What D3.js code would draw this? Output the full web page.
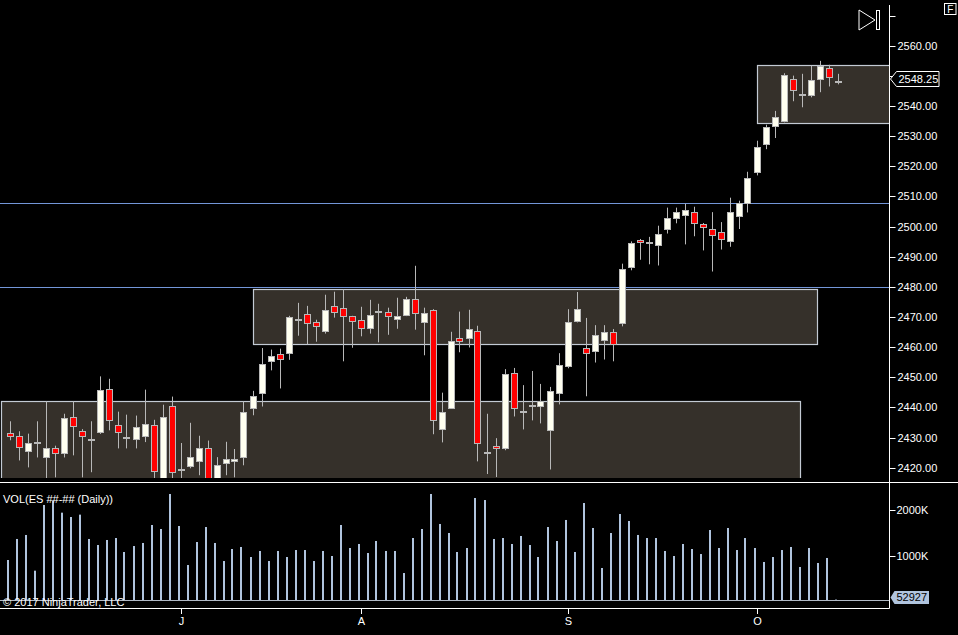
<!DOCTYPE html>
<html>
<head>
<meta charset="utf-8">
<script src="https://d3js.org/d3.v7.min.js"></script>
<style>
  body { margin: 0; background: #000; }
  svg text { font-family: "Liberation Sans", Arial, sans-serif; }
</style>
</head>
<body>
<div id="chart"></div>
<script>
// daily bars, ES futures, index 0 = first bar on the chart
var opens = [2431.5,2430.6,2425.5,2428.5,2423.5,2426.5,2424.8,2436.8,2432.2,2429.5,
  2431.8,2446.1,2434.2,2430.2,2429.5,2430.5,2434.2,2415.5,2440.5,2419.5,
  2420.6,2422.2,2426.5,2416.0,2421.5,2422.2,2423.5,2439.8,2444.8,2455.4,
  2457.7,2458.0,2469.4,2471.0,2468.3,2465.3,2473.6,2473.0,2470.3,2469.0,
  2466.3,2472.1,2471.6,2469.3,2470.7,2476.0,2468.3,2472.3,2432.8,2439.8,
  2463.0,2463.0,2465.3,2425.2,2427.3,2426.5,2451.4,2438.9,2440.8,2440.5,
  2432.5,2444.8,2453.7,2468.6,2459.7,2458.7,2462.4,2465.0,2468.0,2486.6,
  2495.5,2494.8,2493.9,2499.2,2502.8,2503.8,2504.8,2500.8,2499.2,2498.2,
  2495.1,2503.5,2507.8,2518.0,2527.4,2533.4,2535.2,2549.0,2543.9,2543.6,
  2549.0,2552.6,2548.25];
var highs = [2435.4,2432.1,2431.3,2435.4,2442.0,2427.3,2437.9,2442.0,2432.8,2435.4,
  2450.3,2449.5,2438.6,2437.6,2437.3,2445.9,2435.9,2440.9,2443.6,2428.2,
  2434.9,2430.6,2429.0,2423.5,2428.6,2426.2,2442.0,2445.5,2459.7,2459.2,
  2459.5,2470.4,2474.7,2473.7,2469.1,2477.4,2478.4,2479.1,2470.4,2473.4,
  2475.7,2474.4,2473.1,2476.4,2476.7,2487.0,2473.1,2472.6,2444.9,2465.1,
  2471.8,2472.4,2467.1,2437.9,2429.8,2452.7,2453.1,2447.4,2452.1,2447.8,
  2446.8,2458.0,2472.6,2478.3,2469.7,2467.3,2467.3,2466.0,2487.7,2495.1,
  2495.9,2496.6,2500.3,2506.3,2506.3,2507.6,2506.6,2501.2,2504.8,2501.5,
  2509.6,2508.6,2518.2,2528.5,2533.8,2538.4,2550.9,2550.1,2550.7,2553.4,
  2555.0,2553.7,2550.7];
var lows = [2429.1,2422.4,2420.1,2423.4,2416.5,2416.8,2423.4,2424.1,2416.8,2418.5,
  2431.2,2432.4,2426.4,2426.4,2426.4,2428.5,2416.5,2414.0,2416.0,2416.0,
  2419.8,2417.5,2415.0,2415.0,2417.5,2416.8,2420.8,2437.4,2440.3,2452.3,
  2446.3,2455.8,2463.8,2461.0,2461.8,2464.5,2469.8,2455.3,2459.8,2463.6,
  2464.5,2461.6,2464.1,2466.1,2470.3,2465.8,2457.3,2431.1,2428.4,2439.5,
  2458.3,2459.9,2422.1,2417.9,2416.9,2425.8,2437.0,2432.7,2435.7,2434.7,
  2419.4,2441.0,2453.0,2468.2,2443.7,2454.9,2455.9,2455.3,2466.9,2485.5,
  2489.0,2487.5,2487.1,2497.7,2501.1,2494.1,2496.8,2492.1,2485.1,2492.4,
  2493.3,2499.2,2504.7,2517.0,2525.7,2529.4,2534.6,2541.6,2539.6,2542.9,
  2544.6,2546.5,2547.2];
var closes = [2430.5,2426.9,2428.2,2428.5,2426.5,2424.9,2436.5,2433.7,2430.5,2429.5,
  2445.8,2435.8,2431.8,2430.2,2433.5,2434.5,2418.9,2436.8,2418.6,2419.5,
  2423.5,2426.5,2416.0,2420.9,2422.9,2422.9,2438.5,2443.8,2454.4,2457.0,
  2456.1,2470.0,2469.4,2468.0,2467.0,2472.3,2471.6,2470.3,2468.7,2466.3,
  2470.7,2472.1,2470.3,2470.3,2476.0,2471.3,2471.3,2435.8,2438.5,2462.0,
  2462.0,2466.0,2428.0,2425.2,2426.5,2451.1,2439.8,2438.9,2440.8,2442.0,
  2445.4,2454.1,2468.3,2472.6,2458.0,2464.0,2465.0,2461.0,2485.9,2494.5,
  2494.9,2494.8,2497.5,2502.8,2504.8,2505.5,2501.2,2499.8,2497.2,2495.9,
  2504.8,2507.8,2516.1,2526.4,2533.0,2536.3,2550.3,2545.3,2543.9,2548.6,
  2553.3,2549.6,2548.25];
// volume in thousands of contracts
var volumesK = [913,1370,1457,681,2109,2203,1942,1848,1899,1370,
  1239,1348,1391,1087,1217,1283,1674,1587,2348,1652,
  804,1304,1630,1283,891,1152,1196,978,1109,891,
  1109,978,1130,1130,891,1109,1000,1674,1174,1261,
  1065,1326,1109,1109,630,1391,1587,2348,1696,1500,
  1087,1174,2261,2217,1370,1391,1261,1435,1239,978,
  1630,1326,1783,1087,2152,1609,739,1500,1913,1761,
  1457,1391,1391,1109,1000,1261,1152,1043,1565,1174,
  1609,1130,1391,1174,870,978,1130,1196,761,1174,
  848,957,52.927];
var monthTicks = [19, 39, 62, 83];
var monthLabels = ["J", "A", "S", "O"];
var priceTicks = d3.range(2420, 2571, 10);
var volumeTicks = [1000, 2000];
// drawn zones: [from bar, to bar, upper price, lower price]
var zones = [[-0.93, 87.85, 2442.2, 2405], [27, 89.7, 2479.3, 2461.0], [83, 100, 2553.7, 2534.4]];
var levels = [2480.0, 2507.8];

var W = 958, H = 635;
var axisX = 889.5;
var svg = d3.select("#chart").append("svg").attr("width", W).attr("height", H)
  .style("background", "#000");

var x = d3.scaleLinear().domain([0, 92]).range([9.5, 837.5]);
var y = d3.scaleLinear().domain([2420, 2560]).range([467.7, 45.8]);
var yv = d3.scaleLinear().domain([0, 2000]).range([602, 510]);

svg.append("clipPath").attr("id", "pclip").append("rect")
  .attr("x", 0).attr("y", 0).attr("width", axisX).attr("height", 478);

var price = svg.append("g").attr("clip-path", "url(#pclip)");

// level lines
price.selectAll(".lvl").data(levels).enter().append("line")
  .attr("x1", 0).attr("x2", axisX)
  .attr("y1", function (d) { return Math.round(y(d)) + 0.5; })
  .attr("y2", function (d) { return Math.round(y(d)) + 0.5; })
  .attr("stroke", "#7396d8").attr("stroke-width", 1);

// zones
price.selectAll(".zone").data(zones).enter().append("rect")
  .attr("x", function (d) { return Math.round(x(d[0])) + 0.5; })
  .attr("y", function (d) { return Math.round(y(d[2])) + 0.5; })
  .attr("width", function (d) { return Math.round(x(d[1]) - x(d[0])); })
  .attr("height", function (d) { return Math.round(y(d[3]) - y(d[2])); })
  .attr("fill", "#35302a").attr("stroke", "#c3cad4").attr("stroke-width", 1.2);

var bars = d3.range(opens.length);

// wicks
price.selectAll(".wick").data(bars).enter().append("line")
  .attr("x1", function (i) { return Math.round(x(i)) + 0.5; })
  .attr("x2", function (i) { return Math.round(x(i)) + 0.5; })
  .attr("y1", function (i) { return y(highs[i]); })
  .attr("y2", function (i) { return y(lows[i]); })
  .attr("stroke", "#b8b8b8").attr("stroke-width", 1);

// bodies
price.selectAll(".body").data(bars).enter().append("rect")
  .attr("x", function (i) { return Math.round(x(i)) - 2.5; })
  .attr("y", function (i) { return Math.round(y(Math.max(opens[i], closes[i]))) + 0.5; })
  .attr("width", 6)
  .attr("height", function (i) {
    var h = Math.round(y(Math.min(opens[i], closes[i])) - y(Math.max(opens[i], closes[i])));
    return Math.max(h, 1);
  })
  .attr("fill", function (i) {
    if (opens[i] === closes[i]) return "#b8b8b8";
    return closes[i] < opens[i] ? "#ff0000" : "#fffff0";
  })
  .attr("stroke", "#b8b8b8").attr("stroke-width", 1);

// price axis
svg.append("line").attr("x1", axisX).attr("x2", axisX).attr("y1", 5).attr("y2", 482)
  .attr("stroke", "#fff");
var pt = svg.selectAll(".pt").data(priceTicks).enter().append("g")
  .attr("transform", function (d) { return "translate(0," + (Math.round(y(d)) + 0.5) + ")"; });
pt.append("line").attr("x1", axisX).attr("x2", axisX + 6).attr("stroke", "#fff");
pt.filter(function (d) { return d < 2570; }).append("text")
  .attr("x", axisX + 8).attr("dy", "0.36em").attr("fill", "#fff").attr("font-size", "11px")
  .text(function (d) { return d.toFixed(2); });

// last price marker
var last = closes[closes.length - 1];
var ly = Math.round(y(last)) - 2;
svg.append("path")
  .attr("d", "M" + (axisX + 1) + "," + ly + "L" + (axisX + 7) + "," + (ly - 7.5) + "H939V" + (ly + 7.5) + "H" + (axisX + 7) + "Z")
  .attr("fill", "#000").attr("stroke", "#fff");
svg.append("text").attr("x", axisX + 9).attr("y", ly).attr("dy", "0.36em")
  .attr("fill", "#fff").attr("font-size", "11px").text(last.toFixed(2));

// panel separator
svg.append("line").attr("x1", 0).attr("x2", W).attr("y1", 482.5).attr("y2", 482.5).attr("stroke", "#fff");

// volume panel
svg.selectAll(".vol").data(bars).enter().append("rect")
  .attr("x", function (i) { return Math.round(x(i)) - 3; })
  .attr("y", function (i) { return yv(volumesK[i]); })
  .attr("width", 2)
  .attr("height", function (i) { return 600 - yv(volumesK[i]); })
  .attr("fill", "#b0c4de");
svg.append("line").attr("x1", 0).attr("x2", axisX).attr("y1", 600.5).attr("y2", 600.5).attr("stroke", "#b0b8c4");
svg.append("line").attr("x1", axisX).attr("x2", axisX).attr("y1", 482).attr("y2", 608.5).attr("stroke", "#fff");
svg.append("line").attr("x1", 0).attr("x2", axisX).attr("y1", 608.5).attr("y2", 608.5).attr("stroke", "#fff");
var vt = svg.selectAll(".vt").data(volumeTicks).enter().append("g")
  .attr("transform", function (d) { return "translate(0," + (Math.round(yv(d)) + 0.5) + ")"; });
vt.append("line").attr("x1", axisX).attr("x2", axisX + 6).attr("stroke", "#fff");
vt.append("text").attr("x", axisX + 7).attr("dy", "0.36em").attr("fill", "#fff").attr("font-size", "11px")
  .text(function (d) { return d + "K"; });

var lastVol = Math.round(volumesK[volumesK.length - 1] * 1000);
var vy = 597.5;
svg.append("path")
  .attr("d", "M" + (axisX + 1) + "," + vy + "L" + (axisX + 5) + "," + (vy - 6.5) + "H929V" + (vy + 6.5) + "H" + (axisX + 5) + "Z")
  .attr("fill", "#b0c4de");
svg.append("text").attr("x", axisX + 7).attr("y", vy).attr("dy", "0.36em")
  .attr("fill", "#000").attr("font-size", "11px").text(lastVol);

svg.append("text").attr("x", 3).attr("y", 503).attr("fill", "#fff").attr("font-size", "11px")
  .text("VOL(ES ##-## (Daily))");
svg.append("text").attr("x", 3).attr("y", 606).attr("fill", "#fff").attr("font-size", "11px")
  .text("\u00a9 2017 NinjaTrader, LLC");

// time axis
var mt = svg.selectAll(".mt").data(monthTicks).enter().append("g")
  .attr("transform", function (d) { return "translate(" + (Math.round(x(d)) + 0.5) + ",0)"; });
mt.append("line").attr("y1", 608).attr("y2", 614).attr("stroke", "#fff");
mt.append("text").attr("y", 625).attr("text-anchor", "middle").attr("fill", "#fff").attr("font-size", "11px")
  .text(function (d, i) { return monthLabels[i]; });

// corner widgets
svg.append("path").attr("d", "M859,10L875,20L859,30Z").attr("fill", "none").attr("stroke", "#fff");
svg.append("rect").attr("x", 876.5).attr("y", 10.5).attr("width", 3).attr("height", 19)
  .attr("fill", "none").attr("stroke", "#fff");
svg.append("rect").attr("x", 944.5).attr("y", 3.5).attr("width", 11.5).attr("height", 11)
  .attr("fill", "none").attr("stroke", "#fff");
svg.append("text").attr("x", 950.3).attr("y", 13).attr("text-anchor", "middle")
  .attr("fill", "#fff").attr("font-size", "10px").text("F");
</script>
</body>
</html>
